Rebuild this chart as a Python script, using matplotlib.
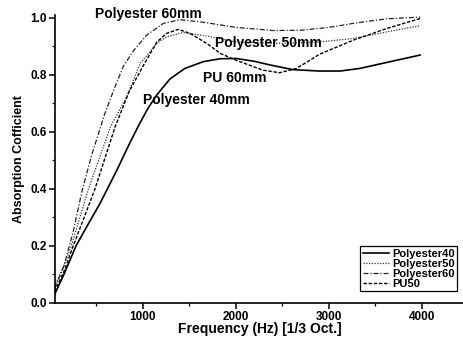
import matplotlib
matplotlib.use("Agg")
from matplotlib import pyplot as plt
from matplotlib.ticker import MultipleLocator

plt.rcParams['font.family'] = ['Liberation Sans', 'DejaVu Sans']
plt.rcParams['font.weight'] = 'bold'

# Polyester 40 mm (solid)
freq_p40 = [50, 150, 280, 400, 540, 720, 850, 950, 1050, 1150, 1290, 1450, 1650, 1830,
            2000, 2200, 2370, 2610, 2900, 3120, 3330, 3620, 3980]
abs_p40 = [0.03, 0.10, 0.20, 0.27, 0.35, 0.466, 0.555, 0.62, 0.68, 0.73, 0.785, 0.822,
           0.846, 0.856, 0.857, 0.847, 0.834, 0.818, 0.813, 0.813, 0.822, 0.843, 0.869]

# Polyester 50 mm (dotted)
freq_p50 = [50, 150, 230, 410, 650, 825, 970, 1150, 1255, 1430, 1700, 2000, 2500,
            2900, 3260, 3620, 3980]
abs_p50 = [0.06, 0.13, 0.20, 0.396, 0.617, 0.723, 0.84, 0.91, 0.933, 0.948, 0.935,
           0.915, 0.91, 0.915, 0.927, 0.95, 0.972]

# Polyester 60 mm (dash-dot)
freq_p60 = [50, 150, 250, 350, 450, 590, 700, 790, 900, 1040, 1220, 1400, 1650,
            2000, 2400, 2700, 3000, 3300, 3620, 3980]
abs_p60 = [0.05, 0.13, 0.25, 0.40, 0.52, 0.664, 0.758, 0.83, 0.885, 0.939, 0.98,
           0.993, 0.984, 0.966, 0.955, 0.956, 0.966, 0.982, 0.996, 1.002]

# PU 50 mm (dashed)
freq_pu50 = [50, 150, 250, 480, 700, 850, 1000, 1150, 1255, 1380, 1505, 1685, 1830,
             2000, 2290, 2470, 2650, 2900, 3260, 3620, 3980]
abs_pu50 = [0.04, 0.11, 0.20, 0.396, 0.617, 0.74, 0.83, 0.915, 0.945, 0.959, 0.945,
            0.91, 0.875, 0.851, 0.816, 0.807, 0.822, 0.872, 0.921, 0.962, 0.997]

fig = plt.figure(figsize=(4.64, 3.37), dpi=100)
ax = fig.add_axes([0.1185, 0.101, 0.8815, 0.855])

ax.plot(freq_p40, abs_p40, color='black', lw=1.2, ls='-', label='Polyester40')
ax.plot(freq_p50, abs_p50, color='#333333', lw=0.9, ls=(0, (1, 1.2)), label='Polyester50')
ax.plot(freq_p60, abs_p60, color='#222222', lw=0.9, ls=(0, (4, 1.5, 1, 1.5)), label='Polyester60')
ax.plot(freq_pu50, abs_pu50, color='black', lw=1.0, ls=(0, (2.5, 1.2)), label='PU50')

# etiquetas dentro del grafico
ax.text(484, 1.012, 'Polyester 60mm', fontsize=10, fontweight='bold', va='center', clip_on=False)
ax.text(1774, 0.91, 'Polyester 50mm', fontsize=10, fontweight='bold', va='center')
ax.text(1645, 0.787, 'PU 60mm', fontsize=10, fontweight='bold', va='center')
ax.text(1000, 0.711, 'Polyester 40mm', fontsize=10, fontweight='bold', va='center')

ax.set_xlim(54, 4452)
ax.set_ylim(0, 1.01)
ax.xaxis.set_major_locator(MultipleLocator(1000))
ax.xaxis.set_minor_locator(MultipleLocator(500))
ax.yaxis.set_major_locator(MultipleLocator(0.2))
ax.yaxis.set_minor_locator(MultipleLocator(0.1))
ax.set_xticks([1000, 2000, 3000, 4000])
ax.yaxis.set_major_formatter(matplotlib.ticker.FormatStrFormatter('%.1f'))

ax.tick_params(axis='both', which='major', direction='out', length=4, width=1.1,
               labelsize=8.5, pad=2)
ax.tick_params(axis='both', which='minor', direction='out', length=2.5, width=0.9)
for lab in ax.get_xticklabels() + ax.get_yticklabels():
    lab.set_fontweight('bold')

for s in ['top', 'right']:
    ax.spines[s].set_visible(False)
for s in ['left', 'bottom']:
    ax.spines[s].set_linewidth(1.2)

ax.set_xlabel('Frequency (Hz) [1/3 Oct.]', fontsize=10, fontweight='bold', labelpad=-1)
ax.set_ylabel('Absorption Cofficient', fontsize=9, fontweight='bold', labelpad=4)

leg = ax.legend(loc='lower right', bbox_to_anchor=(463 / 464, 40 / 337),
                bbox_transform=fig.transFigure, labelspacing=0.0,
                handlelength=2.3, handletextpad=0.3, borderpad=0.25,
                fancybox=False, framealpha=1, edgecolor='black',
                prop={'weight': 'bold', 'size': 8})
leg.get_frame().set_linewidth(0.9)

fig.savefig('out.png', dpi=100)
